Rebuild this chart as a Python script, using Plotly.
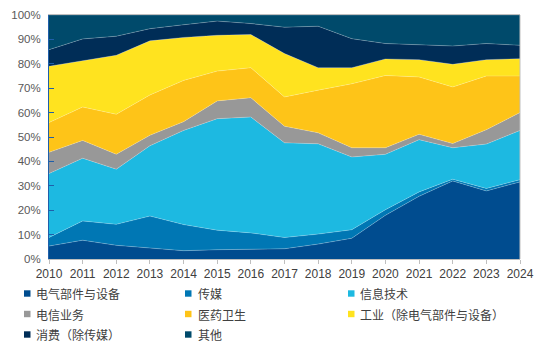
import plotly.graph_objects as go

years = list(range(2010, 2025))
series_names = ["电气部件与设备", "传媒", "信息技术", "电信业务", "医药卫生",
                "工业（除电气部件与设备）", "消费（除传媒）", "其他"]

elec = [5.3, 7.7, 5.6, 4.5, 3.4, 3.8, 4.1, 4.2, 6.1, 8.5, 17.9, 25.7, 32.0, 27.9, 31.6]
media = [3.5, 7.9, 8.6, 13.1, 10.7, 8.0, 6.6, 4.6, 4.1, 3.5, 2.3, 1.8, 0.7, 1.0, 0.9]
it = [26.2, 25.7, 22.6, 28.8, 38.6, 45.7, 47.5, 38.8, 37.0, 29.8, 22.7, 21.4, 12.9, 18.2, 20.2]
telecom = [8.7, 7.3, 6.1, 4.3, 3.6, 7.3, 7.9, 6.8, 4.5, 3.8, 2.7, 2.2, 1.7, 5.9, 7.3]
health = [12.2, 13.7, 16.4, 16.5, 16.9, 12.2, 12.3, 12.0, 17.5, 26.2, 29.6, 23.5, 23.2, 22.0, 15.0]
industry = [23.1, 18.8, 24.2, 22.2, 17.6, 14.7, 13.6, 17.8, 9.2, 6.6, 6.8, 7.1, 9.3, 6.7, 7.1]
consumer = [6.8, 9.1, 7.8, 5.0, 5.2, 5.8, 4.5, 10.8, 17.0, 11.9, 6.3, 6.2, 7.5, 6.6, 5.5]
other = [14.2, 9.8, 8.7, 5.6, 4.0, 2.5, 3.5, 5.0, 4.6, 9.7, 11.7, 12.1, 12.7, 11.7, 12.4]

y_ticks = list(range(0, 101, 10))
y_tick_labels = [f"{v}%" for v in y_ticks]

all_values = [elec, media, it, telecom, health, industry, consumer, other]
colors = ["#004C8F", "#0077B4", "#1DB9E1", "#989898", "#FEC418", "#FFE31F", "#002D57", "#004A6B"]

W, H = 541, 358
ML, MR, MT, MB = 49, 21, 15, 99
PW, PH = W - ML - MR, H - MT - MB

fig = go.Figure()
for name, vals, col in zip(series_names, all_values, colors):
    fig.add_trace(go.Scatter(
        x=years, y=vals, name=name, mode="lines", stackgroup="one", groupnorm="percent",
        line=dict(width=0.6, color="rgba(255,255,255,0.35)"), fillcolor=col,
        showlegend=False, hoverinfo="skip"))

# Legend (3 columns), drawn as squares + text in paper coordinates
col_sq_x = [24, 185, 348]
col_tx_x = [34, 195.5, 357.5]
row_y = [293.5, 314, 334.5]
shapes = [dict(type="line", xref="paper", yref="paper", x0=1, x1=1, y0=0, y1=1,
               line=dict(color="#BFBFBF", width=1))]
annotations = []
for i, (name, col) in enumerate(zip(series_names, colors)):
    r, c = divmod(i, 3)
    sx, ty = col_sq_x[c], row_y[r]
    shapes.append(dict(type="rect", xref="paper", yref="paper",
                       x0=(sx - ML) / PW, x1=(sx + 6.5 - ML) / PW,
                       y0=(MT + PH - (ty - 3.2)) / PH, y1=(MT + PH - (ty + 3.2)) / PH,
                       fillcolor=col, line=dict(width=0)))
    annotations.append(dict(text=name, xref="paper", yref="paper",
                            x=(col_tx_x[c] - ML) / PW, y=(MT + PH - ty) / PH,
                            xanchor="left", yanchor="middle", showarrow=False,
                            font=dict(family="Noto Sans CJK SC, sans-serif", size=12,
                                      color="#404040")))

base_font = "Liberation Sans, Arial, Noto Sans CJK SC, sans-serif"
fig.update_layout(
    width=W, height=H, showlegend=False,
    margin=dict(l=ML, r=MR, t=MT, b=MB, autoexpand=False),
    paper_bgcolor="white", plot_bgcolor="white",
    font=dict(family=base_font, size=11, color="#595959"),
    xaxis=dict(range=[2010, 2024], tickmode="array", tickvals=years,
               ticktext=[str(y) for y in years], showgrid=False, zeroline=False,
               showline=True, linecolor="#BFBFBF", linewidth=1, mirror=True,
               ticks="outside", ticklen=4, tickcolor="#BFBFBF", ticklabelstandoff=0,
               tickfont=dict(size=12, color="#404040")),
    yaxis=dict(range=[0, 100], tickmode="array", tickvals=y_ticks, ticktext=y_tick_labels,
               showgrid=False, zeroline=False, showline=True, linecolor="#1F5FAA",
               linewidth=1, ticks="inside", ticklen=5, tickcolor="#1F5FAA",
               ticklabelstandoff=5, tickfont=dict(size=11.5, color="#595959")),
    shapes=shapes, annotations=annotations,
)

fig.write_html("out.html", config={"displayModeBar": False},
               post_script="document.body.style.margin='0';document.body.style.padding='0';")
